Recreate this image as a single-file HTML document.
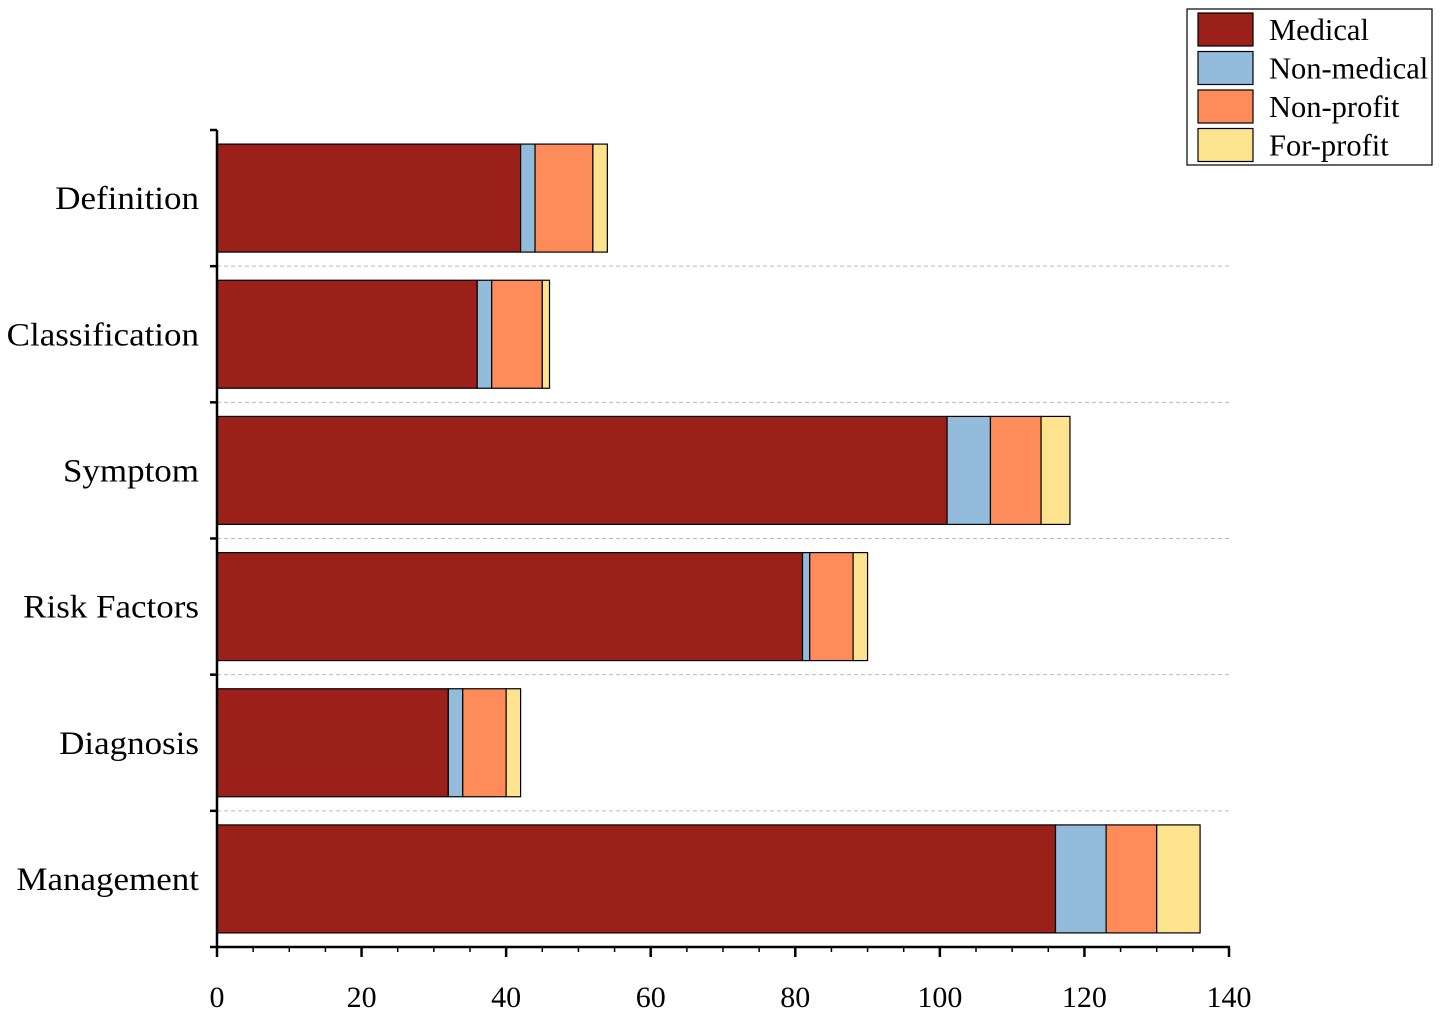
<!DOCTYPE html>
<html><head><meta charset="utf-8"><style>
html,body{margin:0;padding:0;background:#fff;}
svg{display:block;font-family:"Liberation Serif",serif;}
</style></head><body>
<svg id="chart" width="1441" height="1010" xmlns="http://www.w3.org/2000/svg"></svg>
<script>
const categories = ["Definition","Classification","Symptom","Risk Factors","Diagnosis","Management"];
const seriesNames = ["Medical","Non-medical","Non-profit","For-profit"];
const medical = [42,36,101,81,32,116];
const nonMedical = [2,2,6,1,2,7];
const nonProfit = [8,7,7,6,6,7];
const forProfit = [2,1,4,2,2,6];
const xTicks = [0,20,40,60,80,100,120,140];
const colors = ["#9a2019","#93bcdc","#fe8c5a","#fee38f"];
const series = [medical,nonMedical,nonProfit,forProfit];

const svg = document.getElementById('chart');
const NS = "http://www.w3.org/2000/svg";
const x0 = 217, x1 = 1229, yTop = 130, yBot = 947;
const band = (yBot - yTop) / categories.length;
const xs = v => x0 + (v / 140) * (x1 - x0);
function mk(tag, attrs, parent) {
  const e = document.createElementNS(NS, tag);
  for (const k in attrs) e.setAttribute(k, attrs[k]);
  (parent || svg).appendChild(e);
  return e;
}
for (let i = 1; i < categories.length; i++) {
  const l = mk('line', {x1: x0, x2: x1, y1: yTop + i * band, y2: yTop + i * band, stroke: '#bbb', 'stroke-dasharray': '4,3', 'stroke-width': 1});
  
  
}
categories.forEach((c, i) => {
  const g = mk('g', {});
  
  
  const yc = yTop + band * i + band / 2;
  let acc = 0;
  series.forEach((s, j) => {
    const r = mk('rect', {x: xs(acc), y: yc - 54, width: xs(acc + s[i]) - xs(acc), height: 108, fill: colors[j], stroke: '#000', 'stroke-width': 1.2}, g);
    
    
    acc += s[i];
  });
  const t = mk('text', {x: 0, y: 0, 'text-anchor': 'end', 'font-size': 33, fill: '#000', transform: 'translate(199,' + (yc + 11) + ') scale(1.06,1)'});
  t.textContent = c;
  
  
});
const ya = mk('line', {x1: x0, x2: x0, y1: yTop, y2: yBot, stroke: '#000', 'stroke-width': 2.5});


for (let i = 0; i <= categories.length; i++) {
  const t = mk('line', {x1: x0 - 7, x2: x0, y1: yTop + i * band, y2: yTop + i * band, stroke: '#000', 'stroke-width': 2.5});
  
  
}
const xa = mk('line', {x1: x0 - 1, x2: x1 + 1, y1: yBot, y2: yBot, stroke: '#000', 'stroke-width': 2.5});


for (let v = 0; v <= 140; v += 5) {
  const major = v % 20 === 0;
  const t = mk('line', {x1: xs(v), x2: xs(v), y1: yBot, y2: yBot + (major ? 10 : 5), stroke: '#000', 'stroke-width': major ? 2.5 : 1.5});
  
  
}
xTicks.forEach(v => {
  const t = mk('text', {x: xs(v), y: 1007, 'text-anchor': 'middle', 'font-size': 30, fill: '#000'});
  t.textContent = v;
  
  
});
const lg = mk('g', {});


mk('rect', {x: 1187, y: 9, width: 245, height: 156, fill: '#fff', stroke: '#000', 'stroke-width': 1.2}, lg);
seriesNames.forEach((n, j) => {
  const y = 13 + j * 38.5;
  const sw = mk('rect', {x: 1198, y: y, width: 55, height: 33, fill: colors[j], stroke: '#000', 'stroke-width': 1.2}, lg);
  
  
  const t = mk('text', {x: 1269, y: y + 27, 'font-size': 30.5, fill: '#000'}, lg);
  t.textContent = n;
  
  
});
</script>
</body></html>
